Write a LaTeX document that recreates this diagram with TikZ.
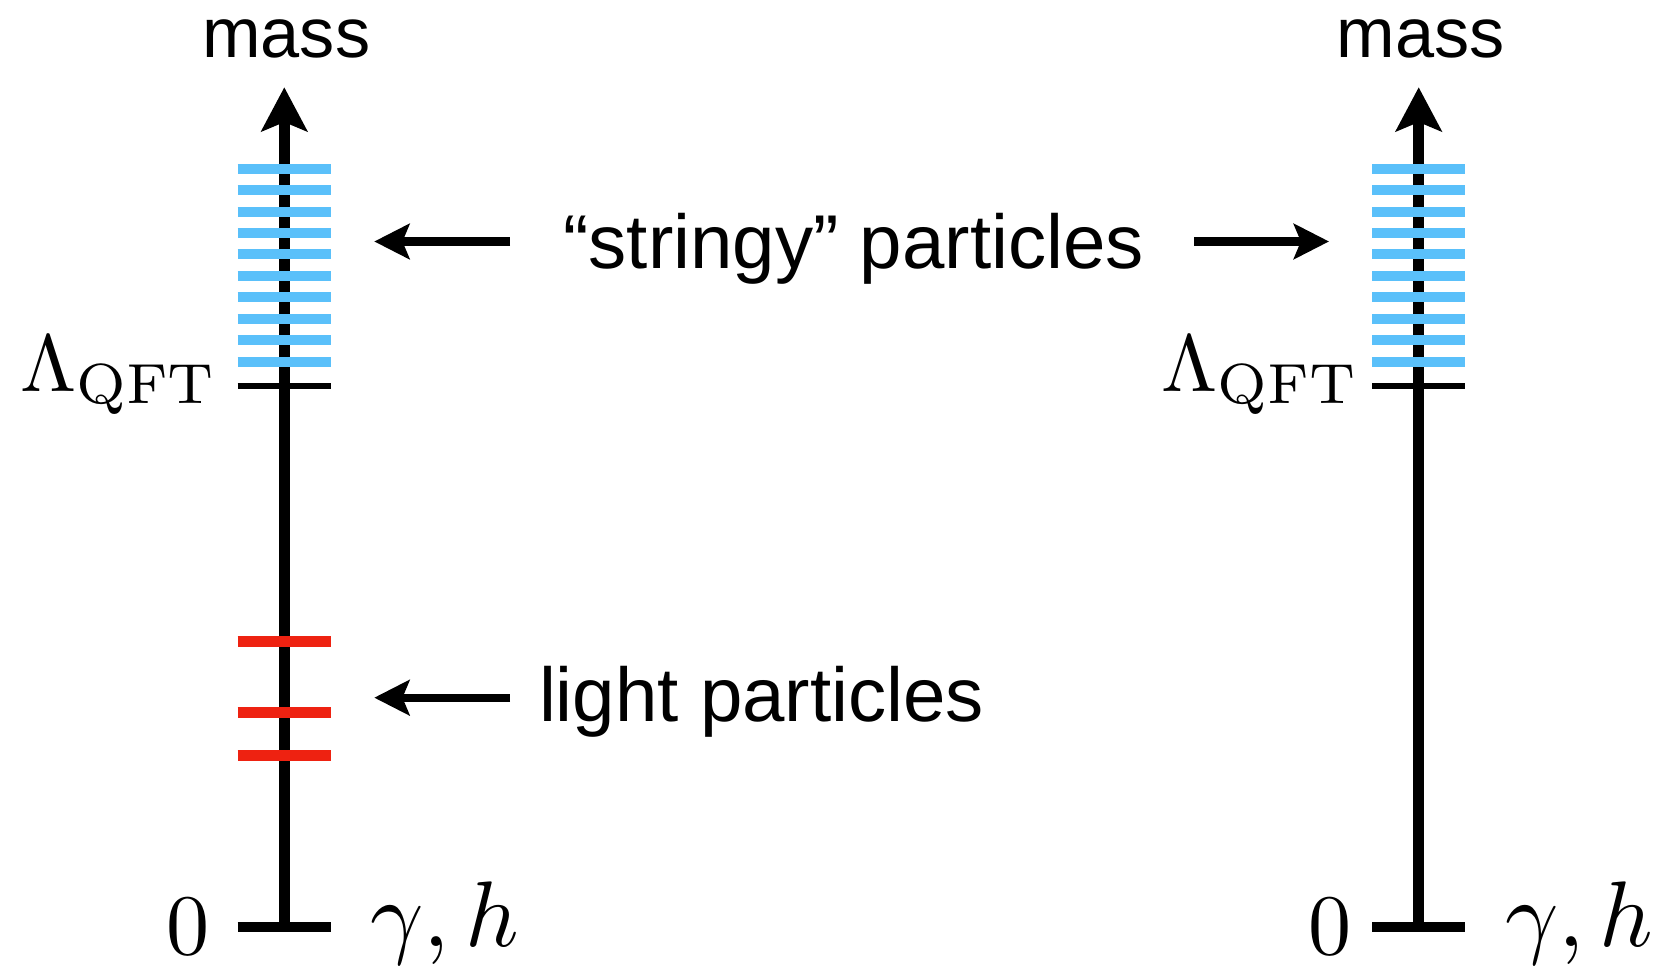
\RequirePackage{fix-cm}
\documentclass[tikz,border=0pt]{standalone}
\usepackage{fontspec}
\newfontfamily\labelfont{Liberation Sans}
\usepackage{xcolor}
\usepackage{tikz}
\usetikzlibrary{arrows.meta,positioning}
\definecolor{stringblue}{HTML}{5AC0FA}
\definecolor{lightred}{HTML}{EE2211}
\newcommand{\massaxis}[3]{%
    % #1=x, #2=name prefix, #3=gap of the left labels
    \coordinate (#2base) at (#1,0.40);
    \coordinate (#2tip) at (#1,8.797);
    \draw[axisline] (#2base) -- (#2tip);
    \draw[qfttick] (#1-0.466,5.81) -- (#1+0.466,5.81);
    \draw[zerotick] (#1-0.466,0.40) -- (#1+0.466,0.40);
    \foreach \k in {0,...,9}
        \draw[stringbar] (#1-0.466,7.983-0.2144*\k) -- (#1+0.466,7.983-0.2144*\k);
    \node[masslabel, anchor=base] (#2mass) at (#1+0.02,9.097) {mass};
    \node[mathlabel, anchor=base east] (#2lam) at (#1-0.386-#3,5.753) {\scalebox{2.3}{$\Lambda_{\mathrm{QFT}}$}};
    \node[mathlabel, anchor=base east] (#2zero) at (#1-0.466-#3,0.12) {\scalebox{2.45}{$0$}};
    \node[mathlabel, anchor=base west] (#2gh) at (#1+0.466+0.39,0.20) {\scalebox{2.65}{$\gamma,h$}};
}

\begin{document}
\begin{tikzpicture}[
    axisline/.style={line width=3pt, -{Stealth[length=12.5pt, width=13pt, inset=2.6pt]}},
    qfttick/.style={line width=1.5pt},
    zerotick/.style={line width=3pt},
    stringbar/.style={draw=stringblue, line width=2.85pt},
    lightbar/.style={draw=lightred, line width=3pt},
    pointer/.style={line width=2.3pt, -{Stealth[length=10pt, width=10pt, inset=2pt]}},
    masslabel/.style={inner sep=0pt, font=\labelfont\fontsize{20}{24}\selectfont},
    textlabel/.style={inner sep=0pt, font=\labelfont\fontsize{21.7}{26}\selectfont},
    mathlabel/.style={inner sep=0pt, font=\fontsize{10}{12}\selectfont}
]
    \useasboundingbox (0,0) rectangle (16.62,9.67);

    \massaxis{2.843}{L}{0.27}
    \massaxis{14.187}{R}{0.20}

    % light states only on the left
    \foreach \y in {3.253,2.547,2.113}
        \draw[lightbar] (2.377,\y) -- (3.309,\y);

    \node[textlabel, anchor=base] (stringy) at (8.537,6.987) {“stringy” particles};
    \node[textlabel, anchor=base west] (lightp) at (5.383,2.453) {light particles};

    \coordinate (stringyL) at (5.10,7.255);
    \coordinate (stringyR) at (11.943,7.255);
    \coordinate (lightpL) at (5.10,2.693);
    \coordinate (barsL) at (3.743,7.255);
    \coordinate (barsR) at (13.29,7.255);
    \coordinate (redL) at (3.743,2.693);

    \draw[pointer] (stringyL) -- (barsL);
    \draw[pointer] (stringyR) -- (barsR);
    \draw[pointer] (lightpL) -- (redL);
\end{tikzpicture}
\end{document}
